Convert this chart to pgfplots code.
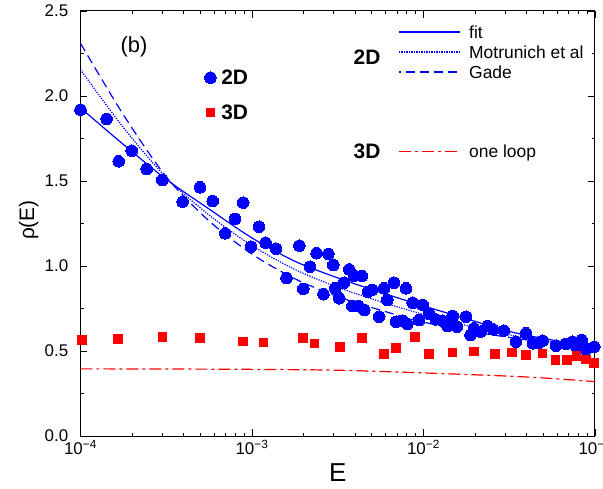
\documentclass[border=0pt]{standalone}
\usepackage{fontspec}
\setmainfont{Liberation Sans}
\usepackage{pgfplots}
\pgfplotsset{compat=1.18}
\definecolor{pblue}{RGB}{0,0,255}
\definecolor{myred}{RGB}{255,0,0}
\begin{document}
\begin{tikzpicture}
\begin{axis}[
  at={(0,0)}, anchor=south west,
  scale only axis, width=514.5bp, height=425bp,
  xmode=log, xmin=1e-4, xmax=1e-1, ymin=0, ymax=2.5,
  xtick={1e-4,1e-3,1e-2,1e-1},
  xticklabels={10\textsuperscript{−4},10\textsuperscript{−3},10\textsuperscript{−2},10\textsuperscript{−1}},
  minor xtick={2e-4,3e-4,4e-4,5e-4,6e-4,7e-4,8e-4,9e-4,2e-3,3e-3,4e-3,5e-3,6e-3,7e-3,8e-3,9e-3,2e-2,3e-2,4e-2,5e-2,6e-2,7e-2,8e-2,9e-2},
  ytick={0,0.5,1,1.5,2,2.5}, yticklabels={0.0,0.5,1.0,1.5,2.0,2.5},
  minor ytick={0.25,0.75,1.25,1.75,2.25},
  tick align=inside,
  major tick length=7bp, minor tick length=3.5bp,
  tick style={black, line width=0.8bp},
  axis line style={black, line width=1bp},
  xticklabel style={font=\fontsize{17}{20}\selectfont, inner sep=0pt, yshift=-4bp},
  yticklabel style={font=\fontsize{17}{20}\selectfont, inner sep=0pt, xshift=-12bp},
  xlabel={E}, ylabel={ρ(E)},
  xlabel style={font=\fontsize{26}{30}\selectfont, at={(axis description cs:0.5,-0.0864)}, anchor=center},
  ylabel style={font=\fontsize{21}{25}\selectfont, at={(axis description cs:-0.1007,0.508)}, anchor=center},
  legend style={at={(0.2414,0.8624)}, anchor=north west, draw=none, fill=none,
    inner sep=0pt, outer sep=0pt, row sep=19bp, column sep=5bp,
    font=\fontsize{21}{25}\selectfont\bfseries, nodes={inner sep=0pt}},
  legend cell align=left,
  legend image code/.code={\draw[mark repeat=2,mark phase=2,#1] plot coordinates {(0bp,0bp)(6bp,0bp)(12bp,0bp)};},
]
% Gade (dashed)
\addplot[forget plot, pblue, line width=1.2bp, dash pattern=on 9bp off 5bp, smooth] coordinates {
(1e-4,2.31) (1.778e-4,1.89) (3.162e-4,1.525) (5.623e-4,1.265) (1e-3,1.07)
(1.778e-3,0.925) (3.162e-3,0.82) (5.623e-3,0.74) (1e-2,0.67)
(1.778e-2,0.62) (3.162e-2,0.58) (5.623e-2,0.545) (1e-1,0.515)};
% Motrunich et al (dotted)
\addplot[forget plot, pblue, line width=1.2bp, dash pattern=on 1.2bp off 1.3bp, smooth] coordinates {
(1e-4,2.155) (1.778e-4,1.815) (3.162e-4,1.52) (5.623e-4,1.30) (1e-3,1.12)
(1.778e-3,0.98) (3.162e-3,0.875) (5.623e-3,0.79) (1e-2,0.715)
(1.778e-2,0.65) (3.162e-2,0.595) (5.623e-2,0.555) (1e-1,0.52)};
% fit (solid)
\addplot[forget plot, pblue, line width=1.2bp, smooth] coordinates {
(1e-4,1.93) (1.778e-4,1.715) (3.162e-4,1.51) (5.623e-4,1.335) (1e-3,1.165)
(1.778e-3,1.028) (3.162e-3,0.93) (5.623e-3,0.845) (1e-2,0.765)
(1.778e-2,0.69) (3.162e-2,0.615) (5.623e-2,0.565) (1e-1,0.525)};
% 2D data
\addplot[only marks, mark=*, mark size=5.8bp, mark options={fill=pblue, draw=pblue, line width=0pt}] coordinates {
(1.00e-4,1.92) (1.42e-4,1.865) (1.67e-4,1.616) (1.99e-4,1.678) (2.43e-4,1.571)
(3.00e-4,1.506) (3.94e-4,1.378) (4.98e-4,1.463) (5.90e-4,1.382) (6.97e-4,1.192)
(7.96e-4,1.276) (8.89e-4,1.373) (9.86e-4,1.113) (1.10e-3,1.231) (1.20e-3,1.137)
(1.38e-3,1.102) (1.59e-3,0.929) (1.89e-3,1.12) (1.99e-3,0.865) (2.18e-3,0.996)
(2.38e-3,1.075) (2.61e-3,0.834) (2.79e-3,1.071) (2.98e-3,1.006) (3.05e-3,0.869)
(3.23e-3,0.81) (3.45e-3,0.902) (3.69e-3,0.98) (3.85e-3,0.765) (3.94e-3,0.941)
(4.17e-3,0.765) (4.37e-3,0.941) (4.52e-3,0.741) (4.76e-3,0.849) (5.02e-3,0.859)
(5.52e-3,0.702) (5.89e-3,0.869) (6.15e-3,0.80) (6.73e-3,0.902) (6.92e-3,0.672)
(7.57e-3,0.678) (7.91e-3,0.869) (8.05e-3,0.659) (8.65e-3,0.784) (9.44e-3,0.682)
(9.89e-3,0.771) (1.08e-2,0.718) (1.18e-2,0.686) (1.29e-2,0.678) (1.38e-2,0.647)
(1.48e-2,0.706) (1.57e-2,0.643) (1.77e-2,0.702) (1.88e-2,0.594) (1.97e-2,0.633)
(2.15e-2,0.614) (2.36e-2,0.647) (2.55e-2,0.627) (2.94e-2,0.62) (3.46e-2,0.555)
(3.96e-2,0.604) (4.34e-2,0.545) (4.73e-2,0.549) (4.95e-2,0.561) (5.93e-2,0.531)
(6.78e-2,0.541) (7.41e-2,0.555) (7.82e-2,0.522) (8.36e-2,0.565) (8.87e-2,0.51)
(9.91e-2,0.525)};
\addlegendentry{2D}
% 3D data
\addplot[only marks, mark=square*, mark size=4.3bp, mark options={fill=myred, draw=myred, line width=0pt}] coordinates {
(1.02e-4,0.565) (1.66e-4,0.571) (3.00e-4,0.584) (4.98e-4,0.578) (8.89e-4,0.555)
(1.17e-3,0.549) (1.98e-3,0.578) (2.31e-3,0.545) (3.26e-3,0.525) (4.37e-3,0.575)
(5.90e-3,0.482) (6.92e-3,0.516) (8.91e-3,0.581) (1.08e-2,0.482) (1.48e-2,0.492)
(1.97e-2,0.496) (2.61e-2,0.482) (3.27e-2,0.49) (3.96e-2,0.476) (4.93e-2,0.486)
(5.90e-2,0.447) (6.89e-2,0.447) (7.82e-2,0.471) (8.87e-2,0.451) (9.86e-2,0.428)};
\addlegendentry{3D}
% one loop
\addplot[forget plot, myred, line width=1.2bp, dash pattern=on 12bp off 4bp on 3bp off 4bp, smooth] coordinates {
(1e-4,0.395) (3.162e-4,0.394) (1e-3,0.392) (3.162e-3,0.387) (1e-2,0.371)
(3.162e-2,0.352) (5.623e-2,0.338) (1e-1,0.32)};
% right-hand key lines
\draw[pblue, line width=1.3bp] (rel axis cs:0.6190,0.9506) -- (rel axis cs:0.7376,0.9506);
\draw[pblue, line width=1.3bp, dash pattern=on 1.2bp off 1.3bp] (rel axis cs:0.6190,0.9035) -- (rel axis cs:0.7376,0.9035);
\draw[pblue, line width=1.3bp, dash pattern=on 9bp off 5bp, dash phase=7bp] (rel axis cs:0.6190,0.8565) -- (rel axis cs:0.7376,0.8565);
\draw[myred, line width=1.3bp, dash pattern=on 12bp off 4bp on 3bp off 4bp] (rel axis cs:0.6190,0.6689) -- (rel axis cs:0.7376,0.6689);
\end{axis}
\begin{scope}[every node/.style={inner sep=0pt, anchor=base west, font=\fontsize{17.5}{21}\selectfont}]
\node at (388.5bp,397.7bp) {fit};
\node at (388.5bp,377.7bp) {Motrunich et al};
\node at (388.5bp,357.7bp) {Gade};
\node at (388.5bp,278bp) {one loop};
\end{scope}
\node[inner sep=0pt, font=\fontsize{21}{25}\selectfont\bfseries] at (286.5bp,379bp) {2D};
\node[inner sep=0pt, font=\fontsize{21}{25}\selectfont\bfseries] at (286.5bp,284.3bp) {3D};
\node[inner sep=0pt, font=\fontsize{22}{26}\selectfont] at (53.5bp,389.3bp) {(b)};
\pgfresetboundingbox
\path[use as bounding box] (-80.5bp,-53bp) rectangle (522.5bp,436bp);
\end{tikzpicture}
\end{document}
